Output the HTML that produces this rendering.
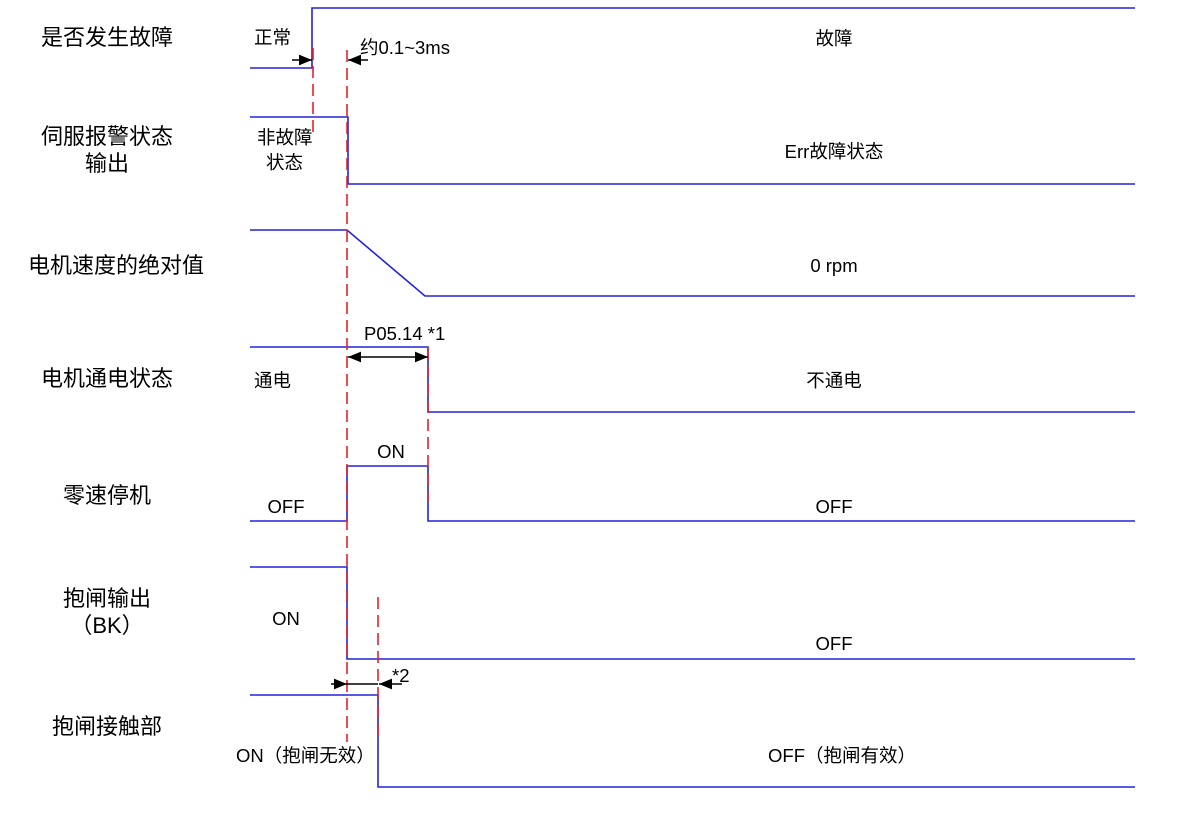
<!DOCTYPE html>
<html><head><meta charset="utf-8"><style>
html,body{margin:0;padding:0;background:#fff;}
svg{display:block;}
text{font-family:"Liberation Sans","Noto Sans CJK SC",sans-serif;fill:#000;}
.l{font-size:22px;text-anchor:middle;}
.s{font-size:18.5px;}
.c{text-anchor:middle;}
</style></head><body>
<svg width="1191" height="813" viewBox="0 0 1191 813" xmlns="http://www.w3.org/2000/svg">
<defs>
<marker id="a" viewBox="0 0 12 10" refX="12" refY="5" markerWidth="13" markerHeight="11" orient="auto-start-reverse" markerUnits="userSpaceOnUse"><path d="M0,0 L12,5 L0,10z" fill="#000"/></marker>
</defs>
<g class="l">
<text x="107" y="45">是否发生故障</text>
<text x="107" y="144">伺服报警状态</text>
<text x="107" y="171">输出</text>
<text x="116" y="273">电机速度的绝对值</text>
<text x="107" y="386">电机通电状态</text>
<text x="107" y="503">零速停机</text>
<text x="107" y="606">抱闸输出</text>
<text x="107" y="633">（BK）</text>
<text x="107" y="734">抱闸接触部</text>
</g>
<g fill="none" stroke="#2222dd" stroke-width="1.6">
<polyline points="250,68 312,68 312,8 1135,8"/>
<polyline points="250,117 348,117 348,184 1135,184"/>
<polyline points="250,230 347,230 425,296 1135,296"/>
<polyline points="250,347 428,347 428,412 1135,412"/>
<polyline points="250,521 347,521 347,466 428,466 428,521 1135,521"/>
<polyline points="250,567 347,567 347,659 1135,659"/>
<polyline points="250,695 378,695 378,787 1135,787"/>
</g>
<g stroke="#e8202a" stroke-width="1.6" stroke-dasharray="12,6" fill="none">
<line x1="313" y1="48" x2="313" y2="132"/>
<line x1="347" y1="50" x2="347" y2="742"/>
<line x1="428" y1="347" x2="428" y2="502"/>
<line x1="378" y1="597" x2="378" y2="742"/>
</g>
<g stroke="#000" stroke-width="1.5" fill="none">
<line x1="292" y1="60" x2="312" y2="60" marker-end="url(#a)"/>
<line x1="368" y1="60" x2="348" y2="60" marker-end="url(#a)"/>
<line x1="348" y1="357" x2="428" y2="357" marker-start="url(#a)" marker-end="url(#a)"/>
<line x1="331" y1="684" x2="347" y2="684" marker-end="url(#a)"/>
<line x1="347" y1="684" x2="378" y2="684"/>
<line x1="402" y1="684" x2="379" y2="684" marker-end="url(#a)"/>
</g>
<g class="s">
<text x="254" y="44">正常</text>
<text x="360" y="54">约0.1~3ms</text>
<text x="834" y="45" class="c">故障</text>
<text x="257" y="144">非故障</text>
<text x="266" y="169">状态</text>
<text x="834" y="158" class="c">Err故障状态</text>
<text x="834" y="272" class="c">0 rpm</text>
<text x="364" y="340">P05.14  *1</text>
<text x="254" y="387">通电</text>
<text x="834" y="387" class="c">不通电</text>
<text x="391" y="458" class="c">ON</text>
<text x="286" y="513" class="c">OFF</text>
<text x="834" y="513" class="c">OFF</text>
<text x="286" y="625" class="c">ON</text>
<text x="834" y="650" class="c">OFF</text>
<text x="392" y="682">*2</text>
<text x="236" y="762">ON（抱闸无效）</text>
<text x="842" y="762" class="c">OFF（抱闸有效）</text>
</g>
</svg>
</body></html>
